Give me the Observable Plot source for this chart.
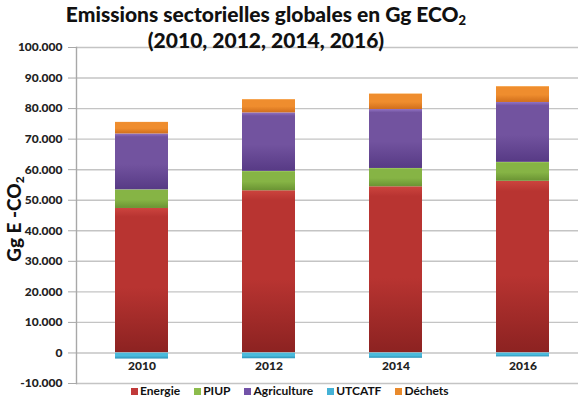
<!DOCTYPE html>
<html>
<head>
<meta charset="utf-8">
<script src="https://cdn.jsdelivr.net/npm/d3@7"></script>
<script src="https://cdn.jsdelivr.net/npm/@observablehq/plot@0.6"></script>
<style>
  html, body { margin: 0; padding: 0; background: #fff; }
  #wrap { position: relative; width: 578px; height: 400px; font-family: Lato, "Open Sans", sans-serif; color: #111; }
  #title { position: absolute; left: 0; width: 532px; top: 1px; text-align: center; font-weight: 900; font-size: 21px; line-height: 26px; z-index: 2; }
  #title sub { font-size: 13px; vertical-align: -3px; line-height: 0; }
  #ylab { position: absolute; left: 13px; top: 219px; transform: translate(-50%, -50%) rotate(-90deg); white-space: nowrap; font-weight: 900; font-size: 19px; }
  #ylab sub { font-size: 12px; vertical-align: -3px; line-height: 0; }
  #legend { position: absolute; top: 384px; left: 131px; display: flex; gap: 14px; font-weight: 700; font-size: 12px; line-height: 14px; }
  #legend span.sw { display: inline-block; width: 7px; height: 7px; margin-right: 2px; vertical-align: 0px; }
  svg { position: absolute; left: 0; top: 0; }
</style>
</head>
<body>
<div id="wrap">
  <div id="title">Emissions sectorielles globales en Gg ECO<sub>2</sub><br>(2010, 2012, 2014, 2016)</div>
  <div id="ylab">Gg E -CO<sub>2</sub></div>
  <div id="legend"></div>
</div>
<script>
const years = ["2010", "2012", "2014", "2016"];
const series = ["Energie", "PIUP", "Agriculture", "UTCATF", "Déchets"];
const energie     = [47300, 53100, 54400, 56200];
const piup        = [6100, 6350, 6000, 6200];
const agriculture = [18300, 19150, 19300, 19600];
const utcatf      = [-2000, -1900, -1750, -1300];
const dechets     = [3800, 4350, 5100, 5200];
const yTicks = [-10000, 0, 10000, 20000, 30000, 40000, 50000, 60000, 70000, 80000, 90000, 100000];

const colors = {
  "Energie":     ["#cc443e", "#b83431", "#8c2221"],
  "PIUP":        ["#a8d46c", "#86b445", "#6a9333"],
  "Agriculture": ["#9173c4", "#72539f", "#573a85"],
  "UTCATF":      ["#8adcf2", "#4bbbdc", "#2c93b8"],
  "Déchets":     ["#fbb15c", "#ef8d2e", "#d06e1c"]
};
const legendColors = {"Energie": "#c0393a", "PIUP": "#8cbc4c", "Agriculture": "#7252a8", "UTCATF": "#45b2d6", "Déchets": "#e98a2c"};

const valuesBySeries = {"Energie": energie, "PIUP": piup, "Agriculture": agriculture, "UTCATF": utcatf, "Déchets": dechets};
const data = [];
for (const s of series) years.forEach((y, i) => data.push({year: y, series: s, value: valuesBySeries[s][i]}));

const gradId = s => "grad-" + series.indexOf(s);

const fmtTick = d => d === 0 ? "0" : (d < 0 ? "-" : "") + d3.format(",")(Math.abs(d)).replace(/,/g, ".");

const plot = Plot.plot({
  width: 578,
  height: 400,
  marginLeft: 76,
  marginTop: 47,
  marginBottom: 17,
  marginRight: 0,
  style: {fontFamily: "Lato, 'Open Sans', sans-serif", background: "transparent", overflow: "visible"},
  x: {domain: years, range: [76, 587], paddingInner: 0.585, paddingOuter: 0.2925, label: null},
  y: {domain: [-10000, 100000], label: null},
  color: {domain: series, range: series.map(s => `url(#${gradId(s)})`)},
  marks: [
    Plot.ruleY(yTicks, {stroke: "#c4c4c4", strokeWidth: 1.4}),
    Plot.frame({anchor: "left", stroke: "#a8a8a8", strokeWidth: 1.4}),
    Plot.axisY({ticks: yTicks, tickFormat: fmtTick, tickSize: 8, tickPadding: 6, stroke: "#a8a8a8", fontWeight: 900, fontSize: 12, fill: "#222", label: null}),
    Plot.barY(data, Plot.stackY({order: series}, {x: "year", y: "value", fill: "series", inset: 0})),
    Plot.axisX({anchor: "bottom", tickSize: 0, tickPadding: 0, dy: -22, fontWeight: 900, fontSize: 12, fill: "#222", label: null})
  ]
});

const svg = d3.select(plot);
const defs = svg.insert("defs", ":first-child");
for (const s of series) {
  const c = colors[s];
  const g = defs.append("linearGradient").attr("id", gradId(s)).attr("x1", 0).attr("y1", 0).attr("x2", 0).attr("y2", 1);
  g.append("stop").attr("offset", "0%").attr("stop-color", c[0]);
  g.append("stop").attr("offset", "6%").attr("stop-color", c[1]);
  g.append("stop").attr("offset", "55%").attr("stop-color", c[1]);
  g.append("stop").attr("offset", "100%").attr("stop-color", c[2]);
}
document.getElementById("wrap").appendChild(plot);

const legend = d3.select("#legend");
for (const s of series) {
  const item = legend.append("div");
  item.append("span").attr("class", "sw").style("background", legendColors[s]);
  item.append("span").text(s);
}
</script>
</body>
</html>
